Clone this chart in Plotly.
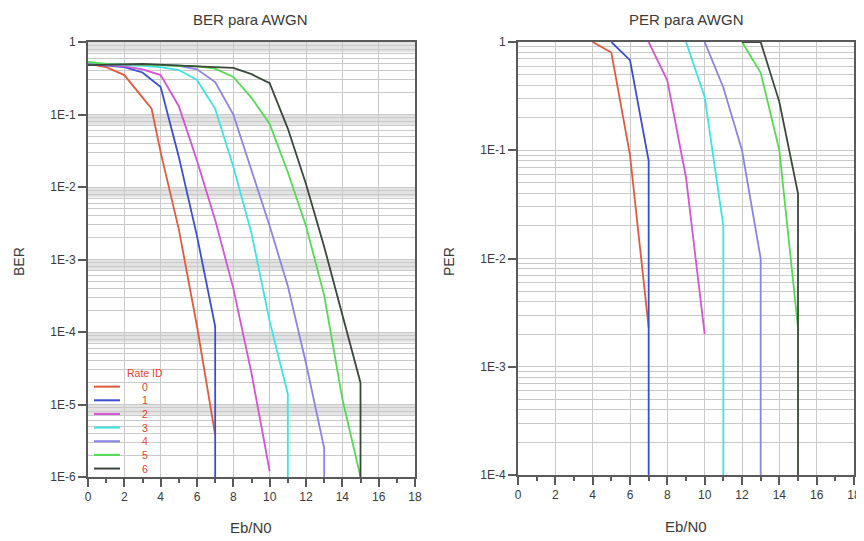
import plotly.graph_objects as go

# ---------------- data ----------------
rate_ids = ["0", "1", "2", "3", "4", "5", "6"]
colors = ["#e25a3c", "#3a4ed2", "#d752d7", "#3ee3e3", "#8b83e6", "#52dc52", "#3a473a"]

BELOW = 1e-9  # value below the plotted range (error rate reaches zero)

# BER vs Eb/N0
ber_x0 = [0, 1, 2, 3, 3.5, 4, 5, 6, 7]
ber_y0 = [0.5, 0.45, 0.35, 0.17, 0.12, 0.03, 2.6e-3, 1.2e-4, 3.8e-6]
ber_x1 = [0, 1, 2, 3, 4, 5, 6, 7, 7]
ber_y1 = [0.5, 0.48, 0.45, 0.38, 0.24, 0.026, 2.1e-3, 1.2e-4, BELOW]
ber_x2 = [0, 1, 2, 3, 4, 5, 6, 7, 8, 9, 10]
ber_y2 = [0.5, 0.48, 0.46, 0.42, 0.35, 0.13, 0.023, 3.5e-3, 4e-4, 2.7e-5, 1.2e-6]
ber_x3 = [0, 1, 2, 3, 4, 5, 6, 7, 8, 9, 10, 11, 11]
ber_y3 = [0.5, 0.49, 0.48, 0.47, 0.45, 0.41, 0.3, 0.12, 0.019, 2.3e-3, 1.4e-4, 1.4e-5, BELOW]
ber_x4 = [0, 1, 2, 3, 4, 5, 6, 7, 8, 9, 10, 11, 12, 13, 13]
ber_y4 = [0.5, 0.49, 0.49, 0.48, 0.48, 0.47, 0.42, 0.28, 0.1, 0.017, 2.9e-3, 4.3e-4, 3.7e-5, 2.5e-6, BELOW]
ber_x5 = [0, 1, 2, 3, 4, 5, 6, 7, 8, 9, 10, 11, 12, 13, 14, 15]
ber_y5 = [0.53, 0.5, 0.49, 0.49, 0.48, 0.47, 0.46, 0.43, 0.33, 0.17, 0.074, 0.016, 2.9e-3, 3.2e-4, 1.2e-5, 1e-6]
ber_x6 = [0, 1, 2, 3, 4, 5, 6, 7, 8, 9, 10, 11, 12, 13, 14, 15, 15]
ber_y6 = [0.48, 0.48, 0.49, 0.5, 0.49, 0.48, 0.46, 0.45, 0.44, 0.36, 0.27, 0.064, 0.011, 1.5e-3, 1.7e-4, 2e-5, BELOW]

# PER vs Eb/N0
per_x0 = [4, 5, 6, 7]
per_y0 = [1.0, 0.8, 0.09, 2.3e-3]
per_x1 = [5, 6, 7, 7]
per_y1 = [1.0, 0.68, 0.08, BELOW]
per_x2 = [7, 8, 9, 10]
per_y2 = [1.0, 0.44, 0.056, 2e-3]
per_x3 = [9, 10, 11, 11]
per_y3 = [1.0, 0.31, 0.02, BELOW]
per_x4 = [10, 11, 12, 13, 13]
per_y4 = [1.0, 0.38, 0.1, 0.01, BELOW]
per_x5 = [12, 13, 14, 15]
per_y5 = [1.0, 0.52, 0.1, 2.3e-3]
per_x6 = [12, 13, 14, 15, 15]
per_y6 = [1.0, 1.0, 0.28, 0.04, BELOW]

ber_series = [(ber_x0, ber_y0), (ber_x1, ber_y1), (ber_x2, ber_y2), (ber_x3, ber_y3),
              (ber_x4, ber_y4), (ber_x5, ber_y5), (ber_x6, ber_y6)]
per_series = [(per_x0, per_y0), (per_x1, per_y1), (per_x2, per_y2), (per_x3, per_y3),
              (per_x4, per_y4), (per_x5, per_y5), (per_x6, per_y6)]

x_ticks = [0, 2, 4, 6, 8, 10, 12, 14, 16, 18]
ber_yticks = [1, 1e-1, 1e-2, 1e-3, 1e-4, 1e-5, 1e-6]
ber_ytext = ["1", "1E-1", "1E-2", "1E-3", "1E-4", "1E-5", "1E-6"]
per_yticks = [1, 1e-1, 1e-2, 1e-3, 1e-4]
per_ytext = ["1", "1E-1", "1E-2", "1E-3", "1E-4"]

# ---------------- figure ----------------
OFF = 8            # page body margin (top-left offset of the plot div)
W, H = 864 - OFF, 541 - OFF
FONT = "Liberation Sans, Arial, sans-serif"
AXC = "#5a5a5a"
GRID = "#c9c9c9"
TXT = "#3a3a3a"
LEGC = "#e8402e"

fig = go.Figure()

for i, (xs, ys) in enumerate(ber_series):
    fig.add_trace(go.Scatter(x=xs, y=ys, mode="lines", name=rate_ids[i],
                             line=dict(color=colors[i], width=1.8),
                             xaxis="x", yaxis="y", showlegend=False))
for i, (xs, ys) in enumerate(per_series):
    fig.add_trace(go.Scatter(x=xs, y=ys, mode="lines", name=rate_ids[i],
                             line=dict(color=colors[i], width=1.8),
                             xaxis="x2", yaxis="y2", showlegend=False))

def px_x(p):
    return (p - OFF) / W

def px_y(p):
    return 1 - (p - OFF) / H

xcommon = dict(range=[0, 18], tickmode="array", tickvals=x_ticks,
               ticks="outside", ticklen=8, tickwidth=1.5, tickcolor=AXC,
               showline=True, linecolor=AXC, linewidth=2, mirror=True,
               showgrid=True, gridcolor=GRID, gridwidth=1, zeroline=False,
               automargin=False, ticklabeloverflow="allow",
               tickfont=dict(family=FONT, size=12, color=TXT),
               minor=dict(dtick=1, ticks="outside", ticklen=4, tickcolor=AXC, showgrid=False))

ycommon = dict(type="log", ticks="outside", ticklen=8, tickwidth=1.5, tickcolor=AXC,
               showline=True, linecolor=AXC, linewidth=2, mirror=True,
               showgrid=True, gridcolor=GRID, gridwidth=1, zeroline=False,
               automargin=False, ticklabeloverflow="allow",
               tickfont=dict(family=FONT, size=12, color=TXT),
               minor=dict(dtick="D1", showgrid=True, gridcolor=GRID, gridwidth=1, ticklen=0))

fig.update_layout(
    width=W, height=H,
    margin=dict(l=0, r=0, t=0, b=0, pad=0, autoexpand=False),
    paper_bgcolor="white", plot_bgcolor="white",
    font=dict(family=FONT, color=TXT),
    xaxis=dict(domain=[px_x(88), px_x(415)], anchor="y", **xcommon),
    yaxis=dict(domain=[px_y(477), px_y(42)], anchor="x", range=[-6, 0],
               tickmode="array", tickvals=ber_yticks, ticktext=ber_ytext, **ycommon),
    xaxis2=dict(domain=[px_x(518), px_x(854)], anchor="y2", **xcommon),
    yaxis2=dict(domain=[px_y(475), px_y(42)], anchor="x2", range=[-4, 0],
                tickmode="array", tickvals=per_yticks, ticktext=per_ytext, **ycommon),
    showlegend=False,
)

# light gray bands just below each decade (left chart)
for e in range(0, -6, -1):
    fig.add_shape(type="rect", xref="x", yref="y", x0=0, x1=18,
                  y0=0.72 * 10 ** e, y1=10 ** e,
                  fillcolor="#e2e2e2", line=dict(width=0), layer="below")

ann = [
    ("BER para AWGN", px_x(250), px_y(19), 0, 15),
    ("PER para AWGN", px_x(686), px_y(19), 0, 15),
    ("Eb/N0", px_x(251), px_y(527), 0, 15),
    ("Eb/N0", px_x(686), px_y(526), 0, 15),
    ("BER", px_x(19), px_y(262), -90, 14),
    ("PER", px_x(449), px_y(262), -90, 14),
]
for text, x, y, ang, sz in ann:
    fig.add_annotation(text=text, x=x, y=y, xref="paper", yref="paper",
                       showarrow=False, textangle=ang,
                       font=dict(family=FONT, size=sz, color=TXT),
                       xanchor="center", yanchor="middle")

# hand-built legend (tight row spacing as in the original)
LEG_FS = 10.5
LEG_STEP = LEG_FS * 1.3          # plotly line height for multi-line text
LEG_TOP = 373                    # centre of the "Rate ID" line
n_lines = len(rate_ids) + 1
fig.add_annotation(text="<br>".join(["Rate ID"] + rate_ids),
                   x=px_x(145), y=px_y(LEG_TOP + (n_lines - 1) / 2 * LEG_STEP),
                   xref="paper", yref="paper", showarrow=False, align="center",
                   font=dict(family=FONT, size=LEG_FS, color=LEGC),
                   xanchor="center", yanchor="middle")
for i in range(len(rate_ids)):
    yy = px_y(LEG_TOP + (i + 1) * LEG_STEP)
    fig.add_shape(type="line", xref="paper", yref="paper",
                  x0=px_x(94), x1=px_x(120), y0=yy, y1=yy,
                  line=dict(color=colors[i], width=2))

fig.write_html("out.html")
